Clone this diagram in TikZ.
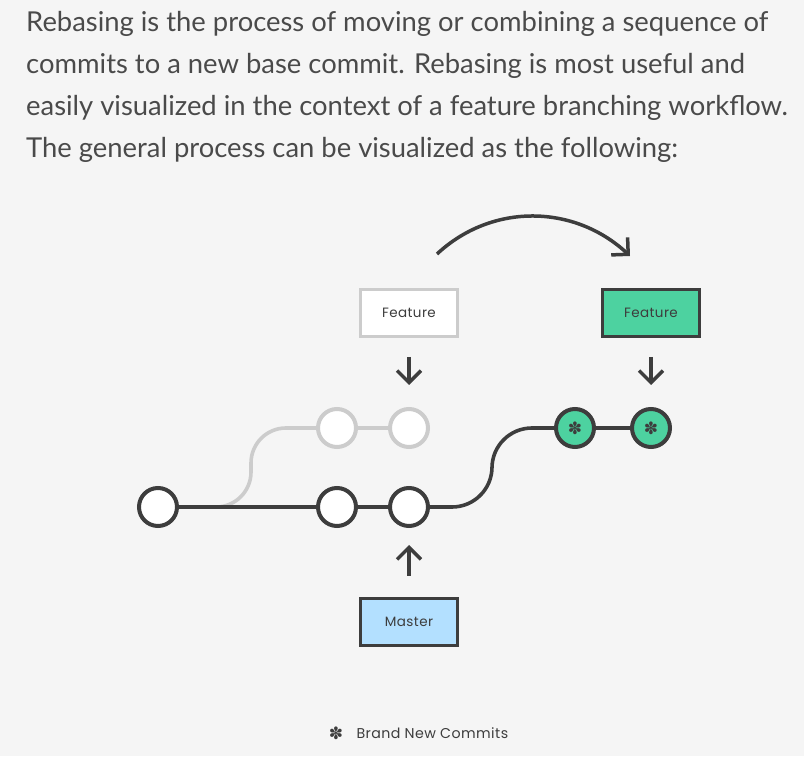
\documentclass[tikz,border=0pt]{standalone}
\usepackage{fontspec}
\setmainfont{Lato}
\newfontfamily\labelfont[LetterSpace=3]{Poppins}
\newfontfamily\symbolfont{DejaVu Sans}
\usetikzlibrary{arrows.meta, positioning}

\definecolor{pagebg}{HTML}{F5F5F5}
\definecolor{ink}{HTML}{3D3D3D}
\definecolor{textgray}{HTML}{4A4A4A}
\definecolor{fadegray}{HTML}{CCCCCC}
\definecolor{rebasegreen}{HTML}{4DD2A0}
\definecolor{masterblue}{HTML}{B3E0FF}

\begin{document}
\begin{tikzpicture}[
  x=1pt, y=1pt,
  every node/.style={align=center, font=\labelfont\fontsize{13.5}{15}\selectfont, text=ink},
  intro/.style={anchor=base west, inner sep=0, font=\fontsize{27.4}{42}\selectfont, text=textgray},
  commit/.style={circle, draw=ink, fill=white, line width=4pt, minimum size=38pt, inner sep=0},
  oldcommit/.style={commit, draw=fadegray},
  newcommit/.style={commit, fill=rebasegreen, font=\symbolfont\fontsize{17}{17}\selectfont},
  box/.style={draw=ink, rectangle, line width=3pt, minimum width=97pt, minimum height=47pt},
  branch/.style={draw=ink, line width=3.6pt},
  oldbranch/.style={draw=fadegray, line width=3.6pt},
  arrow/.style={-{Straight Barb[length=12pt, width=24pt]}, draw=ink, line width=3.5pt}
]

\fill[pagebg] (0,0) rectangle (804,756);
\useasboundingbox (0,0) rectangle (804,756);

% Text
\node[intro] (line1) at (26,724) {Rebasing is the process of moving or combining a sequence of};
\node[intro] (line2) at (26,682) {commits to a new base commit. Rebasing is most useful and};
\node[intro] (line3) at (26,640) {easily visualized in the context of a feature branching workflow.};
\node[intro] (line4) at (26,598) {The general process can be visualized as the following:};

% Commits
\node[commit] (c1) at (158,249) {};
\node[commit] (m2) at (337,249) {};
\node[commit, right=30pt of m2] (m3) {};
\node[oldcommit, above=37pt of m2] (f1) {};
\node[oldcommit, right=30pt of f1] (f2) {};
\node[newcommit] (n1) at (575,328) {✽};
\node[newcommit, right=34pt of n1] (n2) {✽};

% Branches
\draw[oldbranch, rounded corners=35pt] (c1.east) -- ++(72,0) |- (f1);
\draw[oldbranch] (f1) -- (f2);
\draw[branch] (c1) -- (m2);
\draw[branch] (m2) -- (m3);
\draw[branch, rounded corners=40pt] (m3.east) -- ++(62,0) |- (n1);
\draw[branch] (n1) -- (n2);

% Labels
\node[box, draw=fadegray, fill=white, above=69pt of f2] (featold) {Feature};
\node[box, fill=rebasegreen, above=69pt of n2] (featnew) {Feature};
\node[box, fill=masterblue, below=69pt of m3] (master) {Master};

% Arrows
\draw[arrow, shorten <=19pt, shorten >=22pt] (featold) -- (f2);
\draw[arrow, shorten <=19pt, shorten >=22pt] (featnew) -- (n2);
\draw[arrow, shorten <=21pt, shorten >=17pt] (master) -- (m3);
\coordinate (movefrom) at ([xshift=28pt, yshift=34pt]featold.north);
\coordinate (moveto) at ([xshift=-21pt, yshift=32pt]featnew.north);
\draw[arrow] (movefrom) to[out=43, in=137] (moveto);

% Legend
\node[inner sep=0, font=\symbolfont\fontsize{17}{17}\selectfont] (star) at (336,23) {✽};
\node[inner sep=0, right=13pt of star, font=\labelfont\fontsize{14.2}{16}\selectfont] (startext) {Brand New Commits};

\end{tikzpicture}
\end{document}
